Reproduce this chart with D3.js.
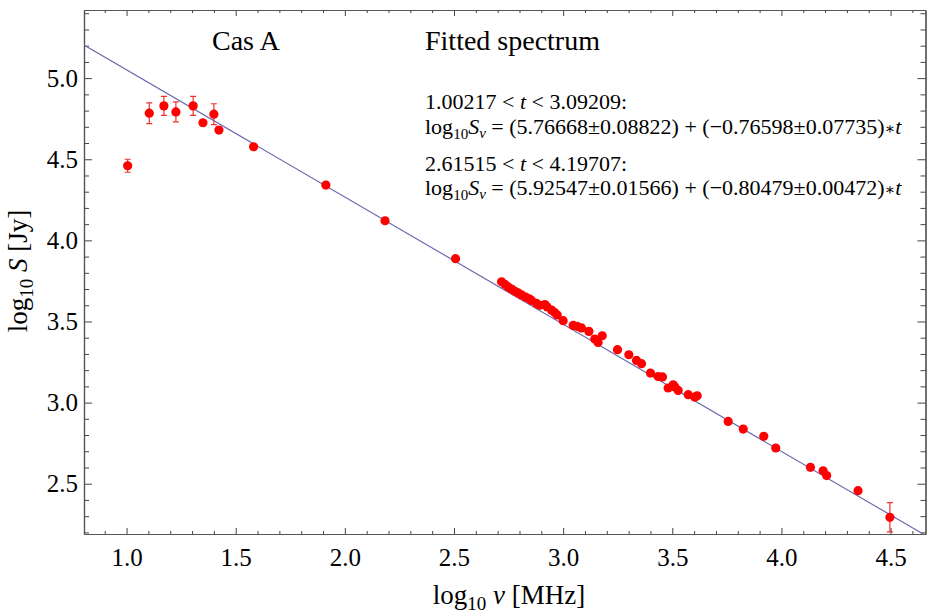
<!DOCTYPE html>
<html>
<head>
<meta charset="utf-8">
<script src="https://cdn.jsdelivr.net/npm/d3@7"></script>
<style>
  body { margin: 0; background: #fff; }
  text { font-family: "Liberation Serif", "DejaVu Serif", serif; fill: #000; }
</style>
</head>
<body>
<script>
// measured points, log10 nu [MHz] vs log10 S [Jy]
var logNu = [1.005, 1.104, 1.171, 1.226, 1.305, 1.350, 1.400, 1.423, 1.582, 1.913,
  2.184, 2.507, 2.718, 2.733, 2.748, 2.764, 2.779, 2.794, 2.809, 2.829,
  2.844, 2.855, 2.878, 2.893, 2.916, 2.927, 2.947, 2.962, 2.973, 3.000,
  3.046, 3.064, 3.084, 3.118, 3.145, 3.160, 3.179, 3.249, 3.301, 3.336,
  3.359, 3.400, 3.435, 3.455, 3.481, 3.504, 3.512, 3.527, 3.573, 3.603,
  3.614, 3.756, 3.825, 3.919, 3.974, 4.133, 4.191, 4.207, 4.351, 4.497];
var logS = [4.460, 4.784, 4.829, 4.792, 4.829, 4.725, 4.778, 4.680, 4.577, 4.341,
  4.121, 3.887, 3.745, 3.729, 3.713, 3.700, 3.686, 3.676, 3.664, 3.650,
  3.640, 3.630, 3.611, 3.600, 3.604, 3.590, 3.570, 3.554, 3.540, 3.505,
  3.476, 3.470, 3.460, 3.439, 3.392, 3.371, 3.412, 3.326, 3.295, 3.260,
  3.240, 3.182, 3.161, 3.158, 3.090, 3.110, 3.096, 3.075, 3.049, 3.034,
  3.042, 2.884, 2.837, 2.792, 2.720, 2.601, 2.580, 2.550, 2.457, 2.293];
// error bars (only where drawn)
var errIndex = [0, 1, 2, 3, 4, 6, 59];
var errS = [0.040, 0.064, 0.059, 0.062, 0.059, 0.064, 0.090];

// straight line drawn through the points
var fitA = 5.835, fitB = -0.784;

var xTicks = [1.0, 1.5, 2.0, 2.5, 3.0, 3.5, 4.0, 4.5];
var yTicks = [2.5, 3.0, 3.5, 4.0, 4.5, 5.0];

var W = 930, H = 613;
var x = d3.scaleLinear().domain([0.805, 4.66]).range([84, 925.5]);
var y = d3.scaleLinear().domain([2.19, 5.42]).range([534, 10]);

var svg = d3.select("body").append("svg").attr("width", W).attr("height", H);

svg.append("clipPath").attr("id", "clip").append("rect")
  .attr("x", x.range()[0]).attr("y", y.range()[1])
  .attr("width", x.range()[1] - x.range()[0]).attr("height", y.range()[0] - y.range()[1]);

var minorX = d3.range(0.9, 4.65, 0.1).map(function(d) { return Math.round(d * 10) / 10; })
  .filter(function(d) { return xTicks.indexOf(d) < 0; });
var minorY = d3.range(2.2, 5.42, 0.1).map(function(d) { return Math.round(d * 10) / 10; })
  .filter(function(d) { return yTicks.indexOf(d) < 0; });

function frameAxis(axisFn, scale, pos, major, minor, bigLen, smallLen, labels) {
  var g1 = svg.append("g").attr("transform", pos)
    .call(axisFn(scale).tickValues(major).tickSize(-bigLen).tickSizeOuter(0)
      .tickPadding(bigLen + 7).tickFormat(labels ? d3.format(".1f") : ""));
  var g2 = svg.append("g").attr("transform", pos)
    .call(axisFn(scale).tickValues(minor).tickSize(-smallLen).tickSizeOuter(0).tickFormat(""));
  [g1, g2].forEach(function(g) {
    g.selectAll("path").attr("stroke", "#555").attr("stroke-width", 1.2);
    g.selectAll("line").attr("stroke", "#444").attr("stroke-width", 1);
  });
  return g1;
}

var bottom = frameAxis(d3.axisBottom, x, "translate(0," + y.range()[0] + ")", xTicks, minorX, 6, 3, true);
frameAxis(d3.axisTop, x, "translate(0," + y.range()[1] + ")", xTicks, minorX, 6, 3, false);
var left = frameAxis(d3.axisLeft, y, "translate(" + x.range()[0] + ",0)", yTicks, minorY, 8, 5, true);
frameAxis(d3.axisRight, y, "translate(" + x.range()[1] + ",0)", yTicks, minorY, 8, 5, false);

bottom.selectAll("text").attr("font-size", 25).attr("font-family", "Liberation Serif").attr("dy", "0.75em");
left.selectAll("text").attr("font-size", 25).attr("font-family", "Liberation Serif");
bottom.selectAll("text").attr("y", 13);
left.selectAll("text").attr("x", -6);

// fit line
var plot = svg.append("g").attr("clip-path", "url(#clip)");
plot.append("line")
  .attr("x1", x(0.805)).attr("y1", y(fitA + fitB * 0.805))
  .attr("x2", x(4.66)).attr("y2", y(fitA + fitB * 4.66))
  .attr("stroke", "#6c6cb0").attr("stroke-width", 1.2);

// error bars
var eb = plot.selectAll(".eb").data(errIndex).enter().append("g").attr("class", "eb")
  .attr("stroke", "#f03030").attr("stroke-width", 1.2);
eb.append("line")
  .attr("x1", function(d) { return x(logNu[d]); }).attr("x2", function(d) { return x(logNu[d]); })
  .attr("y1", function(d, i) { return y(logS[d] + errS[i]); })
  .attr("y2", function(d, i) { return y(logS[d] - errS[i]); });
eb.append("line")
  .attr("x1", function(d) { return x(logNu[d]) - 3; }).attr("x2", function(d) { return x(logNu[d]) + 3; })
  .attr("y1", function(d, i) { return y(logS[d] + errS[i]); })
  .attr("y2", function(d, i) { return y(logS[d] + errS[i]); });
eb.append("line")
  .attr("x1", function(d) { return x(logNu[d]) - 3; }).attr("x2", function(d) { return x(logNu[d]) + 3; })
  .attr("y1", function(d, i) { return y(logS[d] - errS[i]); })
  .attr("y2", function(d, i) { return y(logS[d] - errS[i]); });

plot.selectAll("circle").data(logNu).enter().append("circle")
  .attr("cx", function(d) { return x(d); })
  .attr("cy", function(d, i) { return y(logS[i]); })
  .attr("r", 4.6).attr("fill", "#ff0000");

// axis titles
var xt = svg.append("text").attr("x", 509).attr("y", 604).attr("text-anchor", "middle").attr("font-size", 27);
xt.append("tspan").text("log");
xt.append("tspan").attr("font-size", 19).attr("dy", 6).text("10");
xt.append("tspan").attr("dy", -6).text(" ");
xt.append("tspan").attr("font-style", "italic").text("ν");
xt.append("tspan").text(" [MHz]");

var yt = svg.append("text").attr("transform", "translate(27,271) rotate(-90)")
  .attr("text-anchor", "middle").attr("font-size", 27);
yt.append("tspan").text("log");
yt.append("tspan").attr("font-size", 19).attr("dy", 6).text("10");
yt.append("tspan").attr("dy", -6).text(" ");
yt.append("tspan").attr("font-style", "italic").text("S");
yt.append("tspan").text(" [Jy]");

// annotations
svg.append("text").attr("x", 212).attr("y", 50).attr("font-size", 28).text("Cas A");
svg.append("text").attr("x", 425).attr("y", 50).attr("font-size", 28).text("Fitted spectrum");

var ranges = [["1.00217", "3.09209"], ["2.61515", "4.19707"]];
var coefs = [["5.76668", "0.08822", "0.76598", "0.07735"], ["5.92547", "0.01566", "0.80479", "0.00472"]];
var lineY = [109, 134, 171, 195];

ranges.forEach(function(r, k) {
  var t1 = svg.append("text").attr("x", 425).attr("y", lineY[2 * k]).attr("font-size", 22);
  t1.append("tspan").text(r[0] + " < ");
  t1.append("tspan").attr("font-style", "italic").text("t");
  t1.append("tspan").text(" < " + r[1] + ":");

  var c = coefs[k];
  var t2 = svg.append("text").attr("x", 425).attr("y", lineY[2 * k + 1]).attr("font-size", 22);
  t2.append("tspan").text("log");
  t2.append("tspan").attr("font-size", 15).attr("dy", 5).text("10");
  t2.append("tspan").attr("dy", -5).attr("font-style", "italic").text("S");
  t2.append("tspan").attr("font-size", 15).attr("dy", 4).attr("font-style", "italic").text("ν");
  t2.append("tspan").attr("dy", -4).text(" = (" + c[0] + "±" + c[1] + ") + (−" + c[2] + "±" + c[3] + ")");
  t2.append("tspan").attr("font-size", 16).text("∗");
  t2.append("tspan").attr("font-style", "italic").text("t");
});
</script>
</body>
</html>
